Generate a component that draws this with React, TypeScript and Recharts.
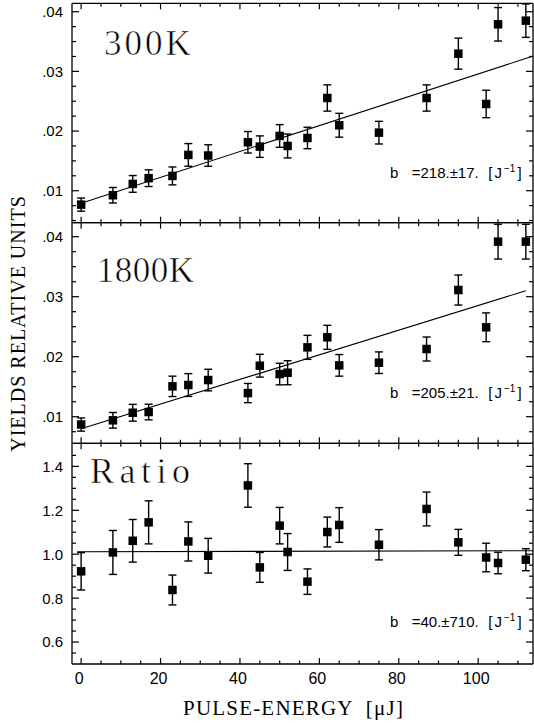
import { ComposedChart, Scatter, XAxis, YAxis, ErrorBar, ReferenceLine } from 'recharts';

// pulse energy [uJ] of every shot group
const energy = [0, 8, 13, 17, 23, 27, 32, 42, 45, 50, 52, 57, 62, 65, 75, 87, 95, 102, 105, 112];

// 300K yields and errors
const yield300 = [0.00767, 0.00924, 0.01114, 0.0121, 0.01248, 0.016, 0.0159, 0.01812, 0.01739, 0.01918, 0.0175, 0.01884, 0.02554, 0.02097, 0.01973, 0.02554, 0.03297, 0.02454, 0.03789, 0.0385];
const err300 = [0.0011, 0.0013, 0.0014, 0.0014, 0.0015, 0.0019, 0.0018, 0.0018, 0.0018, 0.0019, 0.002, 0.0018, 0.0022, 0.002, 0.0019, 0.0022, 0.0026, 0.0023, 0.0028, 0.0028];

// 1800K yields and errors
const yield1800 = [0.0087, 0.0094, 0.01066, 0.01078, 0.01506, 0.01528, 0.01611, 0.01394, 0.0185, 0.01711, 0.01733, 0.02156, 0.02323, 0.01856, 0.019, 0.02128, 0.03111, 0.0249, 0.03917, 0.03917];
const err1800 = [0.0011, 0.0013, 0.0014, 0.0013, 0.0017, 0.0019, 0.0018, 0.0016, 0.0019, 0.0018, 0.002, 0.002, 0.002, 0.0018, 0.0018, 0.002, 0.0025, 0.0024, 0.0029, 0.0029];

// ratio 1800K / 300K
const ratio = [0.922, 1.008, 1.061, 1.145, 0.837, 1.058, 0.993, 1.313, 0.94, 1.13, 1.01, 0.875, 1.101, 1.133, 1.043, 1.206, 1.054, 0.985, 0.96, 0.975];
const ratioErr = [0.085, 0.1, 0.097, 0.098, 0.068, 0.089, 0.079, 0.099, 0.068, 0.083, 0.084, 0.058, 0.068, 0.079, 0.069, 0.077, 0.059, 0.065, 0.049, 0.05];

// straight-line fits, end points
const fit300 = [{ x: 0, y: 0.0079 }, { x: 113.5, y: 0.0325 }];
const fit1800 = [{ x: 0, y: 0.008 }, { x: 112, y: 0.031 }];
const fitRatio = [{ x: -1, y: 1.011 }, { x: 113.8, y: 1.016 }];

// ticks
const xTicks = [0, 5, 10, 15, 20, 25, 30, 35, 40, 45, 50, 55, 60, 65, 70, 75, 80, 85, 90, 95, 100, 105, 110];
const xMajor = [0, 20, 40, 60, 80, 100];
const yieldTicks = [0.005, 0.0075, 0.01, 0.0125, 0.015, 0.0175, 0.02, 0.0225, 0.025, 0.0275, 0.03, 0.0325, 0.035, 0.0375, 0.04];
const yieldMajor = [0.01, 0.02, 0.03, 0.04];
const ratioTicks = [0.55, 0.6, 0.65, 0.7, 0.75, 0.8, 0.85, 0.9, 0.95, 1.0, 1.05, 1.1, 1.15, 1.2, 1.25, 1.3, 1.35, 1.4, 1.45];
const ratioMajor = [0.6, 0.8, 1.0, 1.2, 1.4];

const xDomain = [-2.3, 113.8];
const sans = '"Liberation Sans", Arial, sans-serif';
const serif = '"Liberation Serif", "Times New Roman", serif';
const axisStyle = { stroke: '#000', strokeWidth: 1.3 };

const toPoints = (ys: number[], es: number[]) => energy.map((x, i) => ({ x, y: ys[i], err: es[i] }));
const hit = (list: number[], v: number) => list.some((m) => Math.abs(m - v) < 1e-7);

const Square = (p: any) => <rect x={p.cx - 4.25} y={p.cy - 4.25} width={8.5} height={8.5} fill="#000" />;
const Blank = () => <g />;

interface PanelProps {
  pts: { x: number; y: number; err: number }[];
  domain: number[];
  ticks: number[];
  major: number[];
  fmt: (v: number) => string;
  fit: { x: number; y: number }[];
  top: number;
  height: number;
  plotTop: number;
  plotBottom: number;
  xAxisH: number;
  xLabels: boolean;
}

function Panel({ pts, domain, ticks, major, fmt, fit, top, height, plotTop, plotBottom, xAxisH, xLabels }: PanelProps) {
  const mTop = plotTop - top - 1;
  const mBottom = top + height - plotBottom - xAxisH;
  return (
    <div style={{ position: 'absolute', left: 0, top, width: 534, height }}>
      <ComposedChart width={534} height={height} margin={{ top: mTop, right: 0, bottom: mBottom, left: 0 }}>
        <XAxis
          xAxisId="b" type="number" dataKey="x" domain={xDomain} allowDataOverflow ticks={xTicks} interval={0}
          height={xAxisH} tickSize={0} tickMargin={0} tickLine={false} axisLine={axisStyle}
          tick={(p: any) => {
            const big = hit(xMajor, p.payload.value);
            return (
              <g>
                <line x1={p.x} y1={p.y} x2={p.x} y2={p.y - (big ? 6 : 3.5)} stroke="#000" strokeWidth={1.2} />
                {xLabels && big && (
                  <text x={p.x - 2} y={p.y + 19.5} textAnchor="middle" fontFamily={sans} fontSize={16} fill="#000">{p.payload.value}</text>
                )}
              </g>
            );
          }}
        />
        <XAxis
          xAxisId="t" orientation="top" type="number" dataKey="x" domain={xDomain} allowDataOverflow ticks={xTicks} interval={0}
          height={1} tickSize={0} tickMargin={0} tickLine={false} axisLine={axisStyle}
          tick={(p: any) => {
            const big = hit(xMajor, p.payload.value);
            return <line x1={p.x} y1={p.y} x2={p.x} y2={p.y + (big ? 6 : 3.5)} stroke="#000" strokeWidth={1.2} />;
          }}
        />
        <YAxis
          yAxisId="l" type="number" domain={domain} allowDataOverflow ticks={ticks} interval={0}
          width={72} tickSize={0} tickMargin={0} tickLine={false} axisLine={axisStyle}
          tick={(p: any) => {
            const big = hit(major, p.payload.value);
            return (
              <g>
                <line x1={p.x} y1={p.y} x2={p.x + (big ? 7 : 4)} y2={p.y} stroke="#000" strokeWidth={1.2} />
                {big && (
                  <text x={63} y={p.y} dy="0.36em" textAnchor="end" fontFamily={sans} fontSize={15} fill="#000">{fmt(p.payload.value)}</text>
                )}
              </g>
            );
          }}
        />
        <YAxis
          yAxisId="r" orientation="right" type="number" domain={domain} allowDataOverflow ticks={ticks} interval={0}
          width={1} tickSize={0} tickMargin={0} tickLine={false} axisLine={axisStyle}
          tick={(p: any) => {
            const big = hit(major, p.payload.value);
            return <line x1={p.x} y1={p.y} x2={p.x - (big ? 7 : 4)} y2={p.y} stroke="#000" strokeWidth={1.2} />;
          }}
        />
        <ReferenceLine xAxisId="b" yAxisId="l" segment={fit} stroke="#000" strokeWidth={1.1} />
        <Scatter data={pts} dataKey="y" xAxisId="b" yAxisId="l" shape={Square} isAnimationActive={false}>
          <ErrorBar dataKey="err" direction="y" width={4} stroke="#000" strokeWidth={1.4} isAnimationActive={false} />
        </Scatter>
        <Scatter data={pts} dataKey="y" xAxisId="t" yAxisId="r" shape={Blank} isAnimationActive={false} />
      </ComposedChart>
    </div>
  );
}

const yieldFmt = (v: number) => v.toFixed(2).replace(/^0/, '');
const ratioFmt = (v: number) => v.toFixed(1);

function Slope({ y, value }: { y: number; value: string }) {
  return (
    <g fontFamily={sans} fontSize={15} fill="#000">
      <text x={390} y={y}>b</text>
      <text x={411.7} y={y}>{value}</text>
      <text x={488.3} y={y}>
        [<tspan dx={2}>J</tspan>
        <tspan dx={2} dy={-6} fontSize={10}>−1</tspan>
        <tspan dx={2} dy={6}>]</tspan>
      </text>
    </g>
  );
}

export default function App() {
  return (
    <div style={{ position: 'absolute', left: 0, top: 0, width: 534, height: 725, background: '#fff' }}>
      <Panel
        pts={toPoints(yield300, err300)} domain={[0.00464, 0.04141]} ticks={yieldTicks} major={yieldMajor} fmt={yieldFmt}
        fit={fit300} top={0} height={226} plotTop={3.3} plotBottom={222.7} xAxisH={1} xLabels={false}
      />
      <Panel
        pts={toPoints(yield1800, err1800)} domain={[0.00557, 0.04233]} ticks={yieldTicks.filter((t) => t > 0.0056)} major={yieldMajor} fmt={yieldFmt}
        fit={fit1800} top={219} height={228} plotTop={222.7} plotBottom={443.3} xAxisH={1} xLabels={false}
      />
      <Panel
        pts={toPoints(ratio, ratioErr)} domain={[0.5, 1.505]} ticks={ratioTicks} major={ratioMajor} fmt={ratioFmt}
        fit={fitRatio} top={440} height={285} plotTop={443.3} plotBottom={664} xAxisH={50} xLabels={true}
      />
      <svg width={534} height={725} style={{ position: 'absolute', left: 0, top: 0, pointerEvents: 'none' }}>
        {/* thin white outline makes the big serif labels look lighter, like the plotter font */}
        <g fontFamily={serif} fill="#000" stroke="#fff" strokeWidth={0.6}>
          <text x={104} y={55} fontSize={35} letterSpacing={3}>300K</text>
          <text x={96.7} y={282} fontSize={35} letterSpacing={0.5}>1800K</text>
          <text x={90} y={483.3} fontSize={36} letterSpacing={5.5}>Ratio</text>
        </g>
        <g fontFamily={serif} fill="#000">
          <text x={25} y={323.5} fontSize={20} letterSpacing={1} textAnchor="middle" transform="rotate(-90 25 323.5)">YIELDS RELATIVE UNITS</text>
          <text x={183} y={715} fontSize={21} letterSpacing={1.2} xmlSpace="preserve">PULSE-ENERGY  [μJ]</text>
        </g>
        <Slope y={178.3} value="=218.±17." />
        <Slope y={398} value="=205.±21." />
        <Slope y={626.7} value="=40.±710." />
      </svg>
    </div>
  );
}
